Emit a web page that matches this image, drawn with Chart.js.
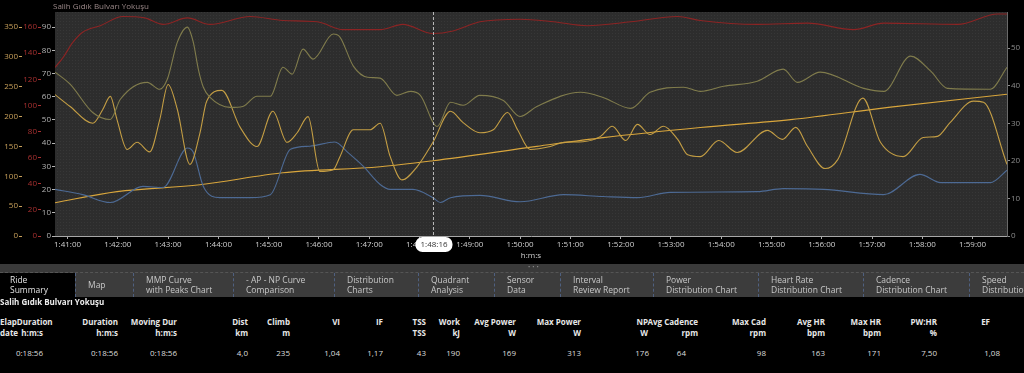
<!DOCTYPE html>
<html>
<head>
  <meta charset="UTF-8">
  <title>Ride Chart</title>
  <script src="https://cdn.jsdelivr.net/npm/chart.js"></script>
  <style>
    body { margin: 0; background: #000; width: 1024px; height: 373px; overflow: hidden; position: relative;
           font-family: "Open Sans", Arial, sans-serif; color: #ddd; }
    #chartBox { position: absolute; left: 0; top: 0; width: 1024px; height: 264px; }
    #rideTitle { position: absolute; left: 53px; top: 1px; font-size: 8px; line-height: 10px; color: #9a8888; }
    .band { position: absolute; left: 0; top: 264px; width: 1024px; height: 8px; background: #3a3a3a; }
    .band span { position: absolute; left: 528px; top: -1px; font-size: 6px; letter-spacing: 2px; color: #8a8a8a; }
    #tabs { position: absolute; left: 0; top: 272px; width: 1024px; height: 25px; background: #3c3c3c; border-top: 1px dashed #555; box-sizing: border-box; }
    .tab { position: absolute; top: 0; height: 24px; box-sizing: border-box; padding: 2px 0 0 12px;
           font-size: 8.5px; line-height: 10px; color: #c8c8c8; border-left: 1px dashed #4f6080; white-space: nowrap; overflow: hidden; }
    .tab.sel { background: #000; border-left: none; padding-left: 10px; color: #e0e0e0; }
    #rideName { position: absolute; left: 0; top: 297px; font-size: 8px; line-height: 10px; font-weight: bold; color: #eee; }
    .cell { position: absolute; font-size: 8px; line-height: 10px; white-space: nowrap; text-align: right; }
    .hd { font-weight: bold; color: #e8e8e8; }
    .val { color: #ddd; }
  </style>
</head>
<body>
  <div id="chartBox"><canvas id="rideChart"></canvas></div>
  <div id="rideTitle">Salih Gıdık Bulvarı Yokuşu</div>
  <div class="band"><span>•••</span></div>
  <div id="tabs"></div>
  <div id="rideName">Salih Gıdık Bulvarı Yokuşu</div>
  <div id="summary"></div>

  <script>
    // ride data (time in seconds of ride clock)
    const hrTime = [6045, 6055, 6066, 6078, 6099, 6126, 6152, 6174, 6203, 6230, 6278, 6317, 6358, 6389, 6433, 6460,
                    6496, 6520, 6552, 6600, 6640, 6680, 6732, 6788, 6815, 6883, 6943, 6998, 7034, 7122, 7170, 7181];
    const hrBpm = [129, 137, 148, 156, 161, 168, 167, 162, 167, 162, 168, 165, 164, 158, 158, 162,
                   155, 157, 164, 166, 164, 161, 164, 168, 165, 162, 163, 158, 163, 162, 170, 170];

    const powerTime = [6045, 6063, 6090, 6102, 6111, 6119, 6131, 6143, 6158, 6170, 6180, 6191, 6206, 6218, 6226, 6244,
                       6266, 6286, 6305, 6322, 6334, 6347, 6361, 6377, 6385, 6401, 6421, 6433, 6445, 6459, 6477, 6496,
                       6517, 6532, 6552, 6568, 6585, 6597, 6612, 6636, 6652, 6675, 6696, 6710, 6726, 6740, 6755, 6771,
                       6788, 6800, 6815, 6837, 6859, 6895, 6913, 6929, 6943, 6964, 6979, 7009, 7030, 7057, 7081, 7098,
                       7113, 7141, 7153, 7181];
    const powerW = [237, 217, 189, 212, 234, 195, 145, 157, 141, 195, 254, 212, 120, 173, 226, 244,
                    182, 150, 209, 157, 173, 200, 108, 111, 133, 178, 178, 189, 133, 94, 116, 157,
                    209, 190, 173, 178, 207, 178, 145, 150, 157, 158, 167, 184, 160, 187, 170, 184,
                    162, 136, 133, 160, 140, 177, 162, 182, 150, 113, 128, 231, 157, 133, 165, 167,
                    190, 226, 224, 120];

    const cadTime = [6045, 6063, 6090, 6111, 6123, 6155, 6170, 6179, 6191, 6203, 6210, 6216, 6222, 6230, 6254, 6269,
                     6286, 6302, 6317, 6328, 6341, 6353, 6377, 6385, 6401, 6418, 6433, 6453, 6469, 6481, 6501, 6517,
                     6532, 6552, 6580, 6600, 6620, 6672, 6699, 6732, 6755, 6795, 6815, 6843, 6883, 6914, 6931, 6958,
                     7010, 7034, 7066, 7090, 7110, 7161, 7181];
    const cadRpm = [70.6, 65.4, 53.2, 50.2, 58.9, 66.2, 63.2, 67.5, 83.5, 90, 83.5, 71.9, 64.1, 59.7, 55.4, 55.8,
                    60.2, 60.2, 72.7, 69.7, 80.5, 76.2, 87, 85.7, 73.2, 68.4, 68, 60.6, 62.3, 60.6, 47.2, 57.6,
                    56.3, 60.6, 58.4, 51.5, 55.8, 61.9, 59.7, 55, 61.9, 64.1, 62.3, 64.5, 66.7, 71.9, 66.2, 70.6,
                    63.6, 62.3, 77.5, 71, 63.6, 63.2, 72.7];

    const speedTime = [6045, 6078, 6111, 6150, 6174, 6203, 6210, 6222, 6242, 6278, 6302, 6326, 6349, 6379, 6394, 6413,
                       6433, 6445, 6472, 6496, 6505, 6517, 6552, 6600, 6652, 6699, 6740, 6779, 6883, 6914, 6962, 7034,
                       7077, 7102, 7161, 7181];
    const speedKmh = [12.4, 11, 8.9, 13.2, 12.9, 23.4, 22.3, 13.2, 10.2, 10.2, 11, 23.1, 23.9, 25, 22.3, 18.5,
                      13.7, 12.4, 12.4, 10.2, 8.9, 10.2, 10.8, 9.1, 11, 10.5, 10.2, 11.6, 11.8, 12.6, 12.4, 11,
                      16.4, 14.2, 14.2, 17.5];

    const altTime = [6045, 6119, 6218, 6317, 6433, 6496, 6620, 6699, 6815, 6923, 7042, 7181];
    const altM = [672, 696, 711, 737, 750, 763, 794, 813, 835, 852, 879, 907];

    const startTime = 6045;   // 1:40:45
    const endTime = 7181;     // 1:59:41
    const crossTime = 6496;   // 1:48:16

    function hms(v) {
      const h = Math.floor(v / 3600);
      const m = Math.floor((v % 3600) / 60);
      const s = Math.round(v % 60);
      return h + ':' + String(m).padStart(2, '0') + ':' + String(s).padStart(2, '0');
    }
    function pts(ts, vs) { return ts.map((t, i) => ({ x: t, y: vs[i] })); }

    Chart.defaults.font.family = '"Open Sans", Arial, sans-serif';
    Chart.defaults.font.size = 8;

    // dotted plot background
    function dotPattern(ctx) {
      const c = document.createElement('canvas');
      c.width = 3; c.height = 3;
      const g = c.getContext('2d');
      g.fillStyle = '#2d2d2d'; g.fillRect(0, 0, 3, 3);
      g.fillStyle = '#373737'; g.fillRect(0, 0, 1, 1);
      return ctx.createPattern(c, 'repeat');
    }

    const plotDeco = {
      id: 'plotDeco',
      beforeDraw(chart) {
        const { ctx, chartArea: a } = chart;
        ctx.save();
        ctx.fillStyle = dotPattern(ctx);
        ctx.fillRect(a.left, a.top, a.right - a.left, a.bottom - a.top);
        ctx.restore();
      },
      afterDraw(chart) {
        const { ctx, chartArea: a } = chart;
        const x = Math.round(chart.scales.x.getPixelForValue(crossTime)) + 0.5;
        ctx.save();
        ctx.strokeStyle = '#b8b8b8';
        ctx.lineWidth = 1;
        ctx.setLineDash([3, 2]);
        ctx.beginPath();
        ctx.moveTo(x, a.top);
        ctx.lineTo(x, a.bottom);
        ctx.stroke();
        ctx.setLineDash([]);
        ctx.fillStyle = '#fff';
        ctx.beginPath();
        ctx.roundRect(x - 18, a.bottom + 1, 37, 15, 7);
        ctx.fill();
        ctx.fillStyle = '#333';
        ctx.font = '8px "Open Sans", Arial, sans-serif';
        ctx.textAlign = 'center';
        ctx.textBaseline = 'middle';
        ctx.fillText(hms(crossTime), x + 0.5, a.bottom + 8.5);
        ctx.restore();
      }
    };

    function yAxis(pos, weight, max, step, color, width, show) {
      return {
        type: 'linear', position: pos, weight: weight, min: 0, max: max, display: show,
        border: { display: pos === 'right', color: '#6a6a6a', dash: [1, 2] },
        grid: { drawOnChartArea: false, tickLength: 3, color: color },
        ticks: { stepSize: step, includeBounds: false, color: color, padding: 1, precision: 0 },
        afterFit(s) { s.width = width; }
      };
    }

    new Chart(document.getElementById('rideChart'), {
      type: 'line',
      data: {
        datasets: [
          { label: 'Heart Rate', data: pts(hrTime, hrBpm), yAxisID: 'hr', borderColor: '#8c2424' },
          { label: 'Cadence', data: pts(cadTime, cadRpm), yAxisID: 'cad', borderColor: '#807c4c' },
          { label: 'Power', data: pts(powerTime, powerW), yAxisID: 'power', borderColor: '#c49e44' },
          { label: 'Speed', data: pts(speedTime, speedKmh), yAxisID: 'speed', borderColor: '#4d6a94' },
          { label: 'Altitude', data: pts(altTime, altM), yAxisID: 'alt', borderColor: '#d9a63c' }
        ]
      },
      options: {
        responsive: true,
        maintainAspectRatio: false,
        animation: false,
        layout: { padding: { top: 12 } },
        elements: {
          point: { radius: 0 },
          line: { borderWidth: 1.1, cubicInterpolationMode: 'monotone' }
        },
        plugins: { legend: { display: false }, tooltip: { enabled: false } },
        scales: {
          x: {
            type: 'linear', min: startTime, max: endTime,
            border: { color: '#a8a8a8' },
            grid: { drawOnChartArea: false, tickLength: 3, color: '#a8a8a8' },
            ticks: { stepSize: 60, includeBounds: false, autoSkip: false, maxRotation: 0, padding: 1,
                     color: '#d0d0d0', callback: v => hms(v) },
            title: { display: true, text: 'h:m:s', color: '#d0d0d0', padding: { top: 0, bottom: 3 } },
            afterFit(s) { s.height = 28; }
          },
          power: yAxis('left', 2, 375.4, 50, '#c8a05a', 22, true),
          hr: yAxis('left', 1, 171.5, 20, '#a83030', 19, true),
          cad: yAxis('left', 0, 96.5, 10, '#b4b4b4', 14, true),
          speed: yAxis('right', 0, 59.6, 10, '#8c8c8c', 17, true),
          alt: { type: 'linear', display: false, min: 600, max: 1085 }
        }
      },
      plugins: [plotDeco]
    });

    // tab strip
    const tabs = [
      [0, 'Ride', 'Summary'], [75, 'Map', ''], [133, 'MMP Curve', 'with Peaks Chart'],
      [233, '- AP - NP Curve', 'Comparison'], [334, 'Distribution', 'Charts'], [418, 'Quadrant', 'Analysis'],
      [494, 'Sensor', 'Data'], [560, 'Interval', 'Review Report'], [653, 'Power', 'Distribution Chart'],
      [758, 'Heart Rate', 'Distribution Chart'], [863, 'Cadence', 'Distribution Chart'], [969, 'Speed', 'Distribution']
    ];
    const tabBox = document.getElementById('tabs');
    tabs.forEach((t, i) => {
      const d = document.createElement('div');
      d.className = 'tab' + (i === 0 ? ' sel' : '');
      const next = i + 1 < tabs.length ? tabs[i + 1][0] : 1024;
      d.style.left = t[0] + 'px';
      d.style.width = (next - t[0]) + 'px';
      if (t[2]) d.innerHTML = t[1] + '<br>' + t[2];
      else { d.textContent = t[1]; d.style.paddingTop = '7px'; }
      tabBox.appendChild(d);
    });

    // summary table: header line 1, header line 2, value, right edge of header, right edge of value
    const cols = [
      ['Duration', 'h:m:s', '0:18:56', 118, 118], ['Moving Dur', 'h:m:s', '0:18:56', 177, 177],
      ['Dist', 'km', '4,0', 248, 248], ['Climb', 'm', '235', 290, 290], ['VI', '', '1,04', 340, 340],
      ['IF', '', '1,17', 383, 383], ['TSS', 'TSS', '43', 426, 426], ['Work', 'kJ', '190', 460, 460],
      ['Avg Power', 'W', '169', 516, 516], ['Max Power', 'W', '313', 581, 581], ['NP', 'W', '176', 648, 649],
      ['Avg Cadence', 'rpm', '64', 698, 686], ['Max Cad', 'rpm', '98', 766, 766], ['Avg HR', 'bpm', '163', 825, 825],
      ['Max HR', 'bpm', '171', 881, 881], ['PW:HR', '%', '7,50', 937, 937], ['EF', '', '1,08', 990, 1000]
    ];
    const summary = document.getElementById('summary');
    function cell(txt, cls, top, right, left) {
      const d = document.createElement('div');
      d.className = 'cell ' + cls;
      d.textContent = txt;
      d.style.top = top + 'px';
      if (left !== undefined) { d.style.left = left + 'px'; d.style.textAlign = 'left'; }
      else d.style.right = (1024 - right) + 'px';
      summary.appendChild(d);
    }
    cell('ElapDuration', 'hd', 317, 0, 0);
    cell('date', 'hd', 328, 0, 0);
    cell('h:m:s', 'hd', 328, 43);
    cell('0:18:56', 'val', 348, 43);
    cols.forEach(c => {
      cell(c[0], 'hd', 317, c[3]);
      if (c[1]) cell(c[1], 'hd', 328, c[3]);
      cell(c[2], 'val', 348, c[4]);
    });
  </script>
</body>
</html>
